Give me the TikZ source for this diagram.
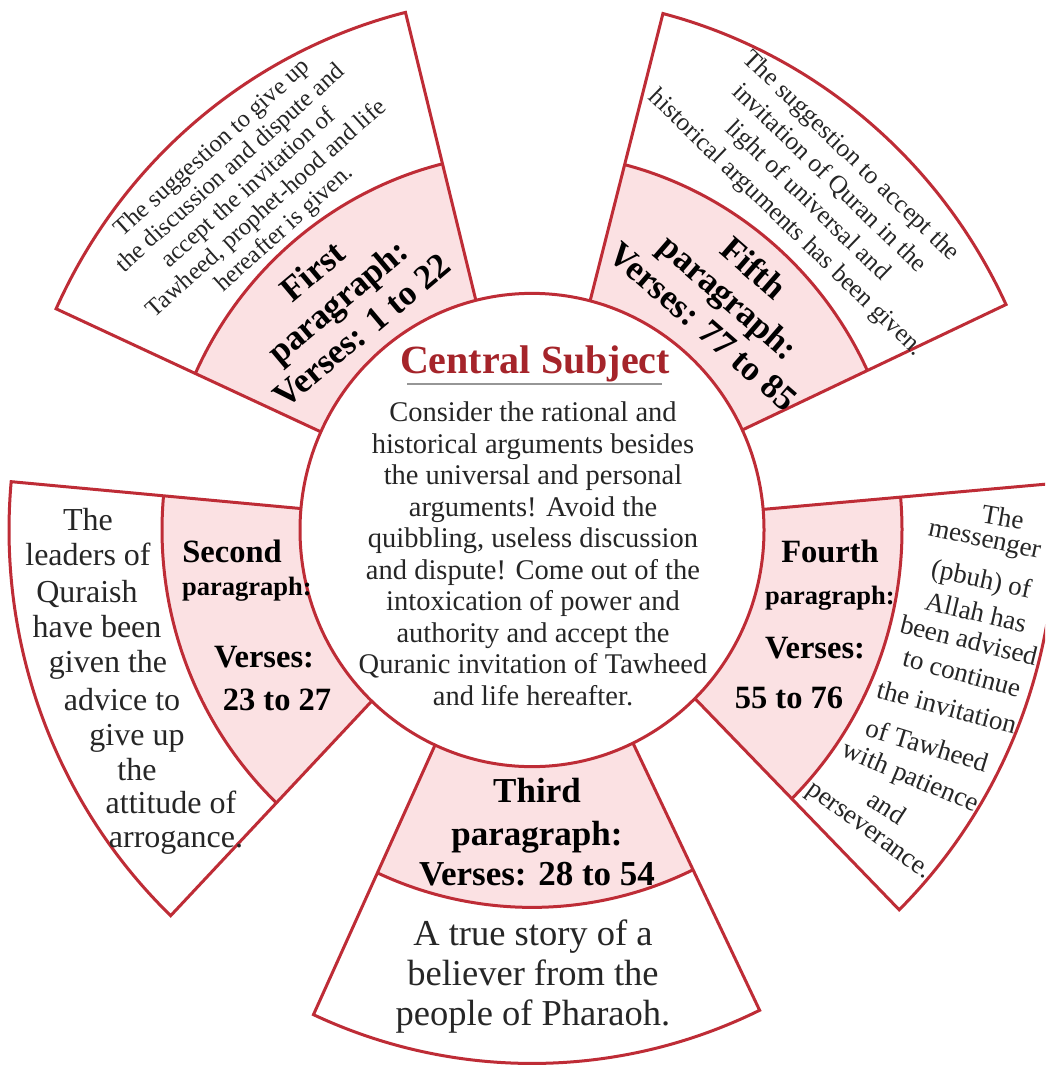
\documentclass[tikz,border=0pt]{standalone}
\usepackage{fontspec}
\setmainfont{Liberation Serif}
\definecolor{ringred}{RGB}{190,44,54}
\definecolor{ringpink}{RGB}{251,225,227}
\definecolor{titlered}{RGB}{165,36,42}
\definecolor{rulegray}{RGB}{150,150,150}
\definecolor{bodytext}{RGB}{38,38,38}
\def\ringC{232}
\def\ringP{370}
\def\ringO{523}
\newcommand\ringsector[2]{%
  \fill[ringpink] (#1:\ringC) arc[start angle=#1,end angle=#2,radius=\ringC]
     -- (#2:\ringP) arc[start angle=#2,end angle=#1,radius=\ringP] -- cycle;
  \draw[ringline] (#1:\ringC) -- (#1:\ringO) arc[start angle=#1,end angle=#2,radius=\ringO] -- (#2:\ringC);
  \draw[ringline] (#1:\ringP) arc[start angle=#1,end angle=#2,radius=\ringP];
}
\tikzset{
  ringline/.style={draw=ringred, line width=3pt},
  titlestyle/.style={inner sep=0pt, text=titlered, font=\fontsize{40}{44}\selectfont\bfseries},
  bodystyle/.style={inner sep=0pt, align=center, text=bodytext, font=\fontsize{28.5}{31.5}\selectfont},
  labbig/.style={inner sep=0pt, align=center, text=black, font=\fontsize{35}{38.5}\selectfont\bfseries},
  labmid/.style={inner sep=0pt, text=black, font=\fontsize{32.5}{36}\selectfont\bfseries},
  labsmall/.style={inner sep=0pt, text=black, font=\fontsize{26.5}{30}\selectfont\bfseries},
  labthird/.style={inner sep=0pt, text=black, font=\fontsize{35}{40}\selectfont\bfseries},
  outtop/.style={inner sep=0pt, align=center, text=bodytext, font=\fontsize{24.5}{27}\selectfont},
  outtopr/.style={inner sep=0pt, align=center, text=bodytext, font=\fontsize{25.5}{31}\selectfont},
  outleft/.style={inner sep=0pt, text=bodytext, font=\fontsize{32}{35}\selectfont},
  outright/.style={inner sep=0pt, text=bodytext, font=\fontsize{27}{30}\selectfont},
  outbottom/.style={inner sep=0pt, align=center, text=bodytext, font=\fontsize{36.5}{40}\selectfont},
}
\begin{document}
\begin{tikzpicture}[x=1pt,y=-1pt]
\useasboundingbox (0,0) rectangle (1045,1065);
\clip (0,0) rectangle (1045,1065);
\fill[white] (0,0) rectangle (1045,1065);
\begin{scope}[shift={(532,530)}, yscale=-1.02]
  \ringsector{25}{75.5}
  \ringsector{104}{155.5}
  \ringsector{174.8}{226.3}
  \ringsector{245.3}{295.8}
  \ringsector{314.6}{365}
  \draw[ringline, fill=white] (0,0) circle[radius=\ringC];
\end{scope}

% central subject
\node[titlestyle, anchor=base] (title) at (535,373) {Central Subject};
\draw[rulegray, line width=1.5pt] (407,384) -- (662,384);
\node[bodystyle, anchor=north] (body) at (533,402) {Consider the rational and\\historical arguments besides\\the universal and personal\\arguments! Avoid the\\quibbling, useless discussion\\and dispute! Come out of the\\intoxication of power and\\authority and accept the\\Quranic invitation of Tawheed\\and life hereafter.};

% first paragraph
\node[labbig, rotate=40] (p1lab) at (337,301) {First\\paragraph:\\Verses: 1 to 22};
\node[outtop, rotate=42] (p1txt) at (249,189) {The suggestion to give up\\the discussion and dispute and\\accept the invitation of\\Tawheed, prophet-hood and life\\hereafter is given.};

% fifth paragraph
\node[labbig, rotate=-41] (p5lab) at (729,297) {Fifth\\paragraph:\\Verses: 77 to 85};
\node[outtopr, rotate=-44] (p5txt) at (818,190) {The suggestion to accept the\\invitation of Quran in the\\light of universal and\\historical arguments has been given.};

% second paragraph
\node[labmid, anchor=base] (p2a) at (232,562) {Second};
\node[labsmall, anchor=base] (p2b) at (247,595) {paragraph:};
\node[labmid, anchor=base] (p2c) at (264,667) {Verses:};
\node[labmid, anchor=base] (p2d) at (277,710) {23 to 27};
\node[outleft, anchor=base] (s2l1) at (88,530) {The};
\node[outleft, anchor=base] (s2l2) at (88,565) {leaders of};
\node[outleft, anchor=base] (s2l3) at (87,602) {Quraish};
\node[outleft, anchor=base] (s2l4) at (97,637) {have been};
\node[outleft, anchor=base] (s2l5) at (108,672) {given the};
\node[outleft, anchor=base] (s2l6) at (122,710) {advice to};
\node[outleft, anchor=base] (s2l7) at (137,745) {give up};
\node[outleft, anchor=base] (s2l8) at (137,780) {the};
\node[outleft, anchor=base] (s2l9) at (171,813) {attitude of};
\node[outleft, anchor=base] (s2l10) at (176,847) {arrogance.};

% third paragraph
\node[labthird, anchor=base] (p3a) at (537,802) {Third};
\node[labthird, anchor=base] (p3b) at (537,845) {paragraph:};
\node[labthird, anchor=base] (p3c) at (537,885) {Verses: 28 to 54};
\node[outbottom, anchor=north] (p3txt) at (533,920) {A true story of a\\believer from the\\people of Pharaoh.};

% fourth paragraph
\node[labmid, anchor=base] (p4a) at (830,562) {Fourth};
\node[labsmall, anchor=base] (p4b) at (830,604) {paragraph:};
\node[labmid, anchor=base] (p4c) at (815,658) {Verses:};
\node[labmid, anchor=base] (p4d) at (789,708) {55 to 76};
\node[outright, rotate=-10] (s4l1) at (1003,517) {The};
\node[outright, rotate=-12] (s4l2) at (984,543) {messenger};
\node[outright, rotate=-12] (s4l3) at (981,581) {(pbuh) of};
\node[outright, rotate=-13] (s4l4) at (976,612) {Allah has};
\node[outright, rotate=-14] (s4l5) at (969,640) {been advised};
\node[outright, rotate=-15] (s4l6) at (962,673) {to continue};
\node[outright, rotate=-15] (s4l7) at (947,707) {the invitation};
\node[outright, rotate=-17] (s4l8) at (927,745) {of Tawheed};
\node[outright, rotate=-23] (s4l9) at (910,778) {with patience};
\node[outright, rotate=-33] (s4l10) at (887,807) {and};
\node[outright, rotate=-36] (s4l11) at (867,833) {perseverance.};
\end{tikzpicture}
\end{document}
